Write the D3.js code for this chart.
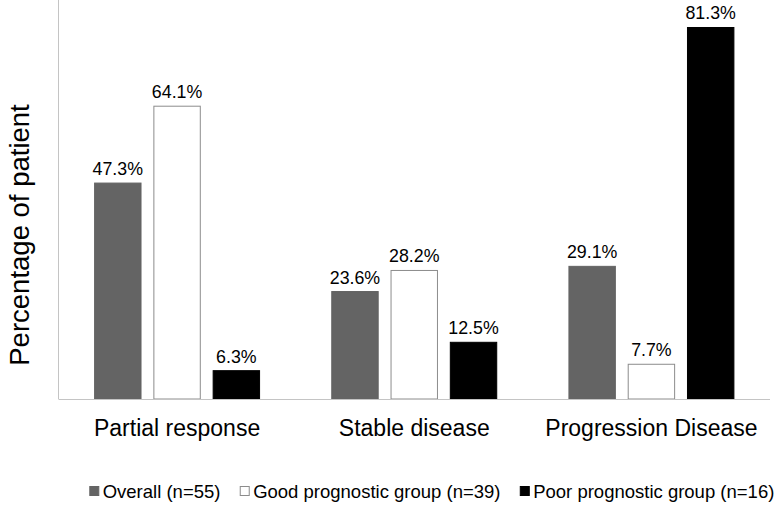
<!DOCTYPE html>
<html>
<head>
<meta charset="utf-8">
<script src="https://cdn.jsdelivr.net/npm/d3@7"></script>
<style>
  html, body { margin: 0; padding: 0; background: #fff; }
  svg { display: block; font-family: "Liberation Sans", Arial, sans-serif; }
</style>
</head>
<body>
<svg id="chart" width="784" height="511"></svg>
<script>
const categories = ["Partial response", "Stable disease", "Progression Disease"];
const seriesNames = ["Overall (n=55)", "Good prognostic group (n=39)", "Poor prognostic group (n=16)"];
const overall = [47.3, 23.6, 29.1];
const good = [64.1, 28.2, 7.7];
const poor = [6.3, 12.5, 81.3];
const valueLabels = [
  ["47.3%", "23.6%", "29.1%"],
  ["64.1%", "28.2%", "7.7%"],
  ["6.3%", "12.5%", "81.3%"]
];

const seriesValues = [overall, good, poor];
const fills = ["#646464", "#ffffff", "#000000"];
const strokes = ["#646464", "#8c8c8c", "#000000"];

const svg = d3.select("#chart");
const mLeft = 58.5, mRight = 770, mBottom = 399, mTop = 0;

const x0 = d3.scaleBand().domain(categories).range([mLeft, mRight]).paddingInner(0).paddingOuter(0);
const x1 = d3.scaleBand().domain(d3.range(3)).range([35.6, x0.bandwidth() - 35.6]).paddingInner(0.2).paddingOuter(0);
const y = d3.scaleLinear().domain([0, 87.2]).range([mBottom, mTop]);

// bars
const groups = svg.append("g").selectAll("g")
  .data(categories).join("g")
  .attr("transform", d => `translate(${x0(d)},0)`);

groups.each(function(cat, ci) {
  const g = d3.select(this);
  seriesValues.forEach((vals, si) => {
    const v = vals[ci];
    g.append("rect")
      .attr("x", x1(si) + 0.5)
      .attr("y", y(v) + 0.5)
      .attr("width", x1.bandwidth() - 1)
      .attr("height", mBottom - y(v) - 0.5)
      .attr("fill", fills[si])
      .attr("stroke", strokes[si])
      .attr("stroke-width", 1);
    g.append("text")
      .attr("x", x1(si) + x1.bandwidth() / 2)
      .attr("y", y(v) - 7.5)
      .attr("text-anchor", "middle")
      .attr("font-size", "17.8px")
      .attr("fill", "#000")
      .text(valueLabels[si][ci]);
  });
});

// axes lines
const xAxis = svg.append("g").attr("transform", `translate(0,${mBottom})`)
  .call(d3.axisBottom(x0).tickSize(0).tickPadding(0));
xAxis.select(".domain").attr("stroke", "#c4c4c4").attr("d", `M${mLeft},0.5H${mRight}`);
xAxis.selectAll("text")
  .attr("font-size", "23px")
  .attr("fill", "#000")
  .attr("dy", null)
  .attr("y", 36.7)
  .style("font-family", "'Liberation Sans', Arial, sans-serif");

const yAxis = svg.append("g").attr("transform", `translate(${mLeft},0)`)
  .call(d3.axisLeft(y).tickValues([]).tickSize(0));
yAxis.select(".domain").attr("stroke", "#c4c4c4").attr("d", `M0,${mTop}V${mBottom}`);

// y title
svg.append("text")
  .attr("transform", `translate(29,235) rotate(-90)`)
  .attr("text-anchor", "middle")
  .attr("font-size", "27.5px")
  .attr("fill", "#000")
  .text("Percentage of patient");

// legend
const legend = svg.append("g");
let lx = 89.3;
seriesNames.forEach((name, i) => {
  legend.append("rect")
    .attr("x", lx + 0.5).attr("y", 486.5)
    .attr("width", 9).attr("height", 9)
    .attr("fill", fills[i])
    .attr("stroke", strokes[i]);
  const t = legend.append("text")
    .attr("x", lx + 13.4).attr("y", 498)
    .attr("font-size", "18.5px")
    .attr("fill", "#000")
    .text(name);
  const w = t.node().getComputedTextLength();
  lx = lx + 13.4 + w + 19.3;
});
</script>
</body>
</html>
